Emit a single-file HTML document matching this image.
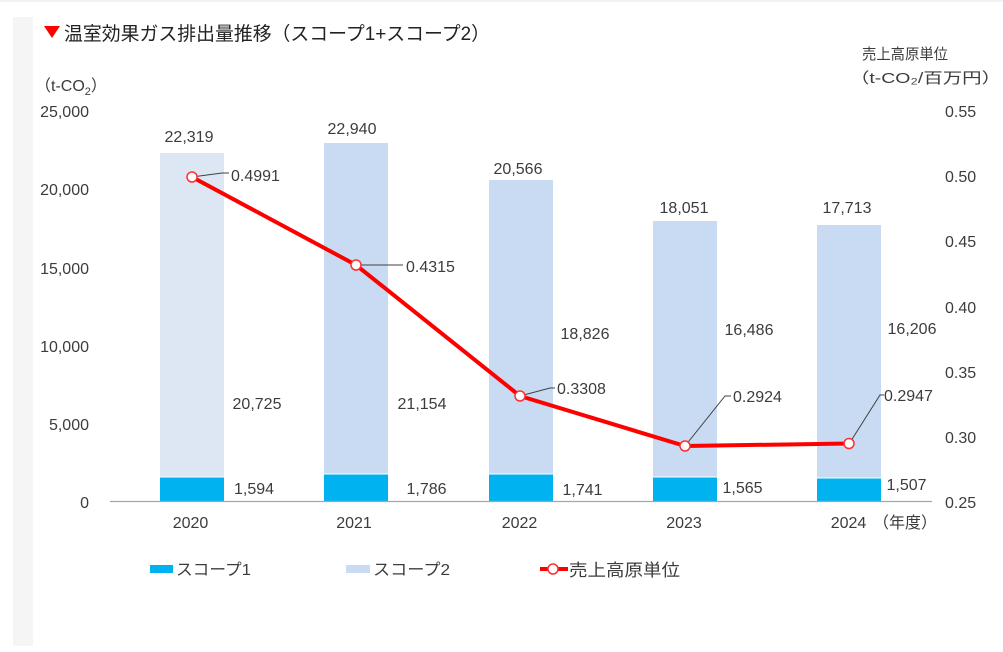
<!DOCTYPE html>
<html>
<head>
<meta charset="utf-8">
<style>
  html,body{margin:0;padding:0;background:#fff;}
  svg{display:block;}
  text{font-family:"Liberation Sans","Noto Sans CJK JP",sans-serif;fill:#3c3c3c;}
  .n{font-size:16px;}
  .j{font-family:"Liberation Sans","Noto Sans CJK JP",sans-serif;}
</style>
</head>
<body>
<svg width="1003" height="652" viewBox="0 0 1003 652" xmlns="http://www.w3.org/2000/svg">
  <rect x="0" y="0" width="1003" height="652" fill="#ffffff"/>
  <rect x="0" y="0" width="1003" height="2" fill="#f2f2f2"/>
  <!-- left gray strip -->
  <rect x="13" y="17" width="20" height="629" fill="#f5f5f5"/>

  <!-- Title -->
  <polygon points="44,26 60,26 52,38" fill="#ff0000"/>
  <text x="64" y="40" font-size="19" textLength="426" lengthAdjust="spacingAndGlyphs" style="fill:#222">温室効果ガス排出量推移（スコープ1+スコープ2）</text>

  <!-- Axis titles -->
  <text x="35" y="91" font-size="16">（t-CO<tspan font-size="11" dy="4">2</tspan><tspan dy="-4">）</tspan></text>
  <text x="862" y="59" font-size="15" textLength="86" lengthAdjust="spacingAndGlyphs">売上高原単位</text>
  <text x="850" y="83" font-size="15" textLength="151" lengthAdjust="spacingAndGlyphs">（t-CO₂/百万円）</text>

  <!-- Left tick labels -->
  <g class="n" text-anchor="end">
    <text x="89" y="117">25,000</text>
    <text x="89" y="195">20,000</text>
    <text x="89" y="274">15,000</text>
    <text x="89" y="352">10,000</text>
    <text x="89" y="430">5,000</text>
    <text x="89" y="508">0</text>
  </g>
  <!-- Right tick labels -->
  <g class="n" text-anchor="start">
    <text x="945" y="117">0.55</text>
    <text x="945" y="182">0.50</text>
    <text x="945" y="247">0.45</text>
    <text x="945" y="313">0.40</text>
    <text x="945" y="378">0.35</text>
    <text x="945" y="443">0.30</text>
    <text x="945" y="508">0.25</text>
  </g>

  <!-- Bars -->
  <!-- 2020 -->
  <rect x="160" y="153" width="64" height="323.5" fill="#dde7f4"/>
  <rect x="160" y="477.5" width="64" height="24" fill="#00b2f0"/>
  <!-- 2021 -->
  <rect x="324" y="143" width="64" height="330.5" fill="#c9dbf2"/>
  <rect x="324" y="474.5" width="64" height="27" fill="#00b2f0"/>
  <!-- 2022 -->
  <rect x="489" y="180" width="64" height="293.5" fill="#c9dbf2"/>
  <rect x="489" y="474.5" width="64" height="27" fill="#00b2f0"/>
  <!-- 2023 -->
  <rect x="653" y="221" width="64" height="255.5" fill="#c9dbf2"/>
  <rect x="653" y="477.5" width="64" height="24" fill="#00b2f0"/>
  <!-- 2024 -->
  <rect x="817" y="225" width="64" height="252.5" fill="#c9dbf2"/>
  <rect x="817" y="478.5" width="64" height="23" fill="#00b2f0"/>

  <!-- baseline -->
  <line x1="110" y1="501.5" x2="932" y2="501.5" stroke="#a6a6a6" stroke-width="1.2"/>

  <!-- Total labels -->
  <g class="n" text-anchor="middle">
    <text x="189" y="142">22,319</text>
    <text x="352" y="134">22,940</text>
    <text x="518" y="174">20,566</text>
    <text x="684" y="213">18,051</text>
    <text x="847" y="213">17,713</text>
  </g>
  <!-- Scope2 labels -->
  <g class="n" text-anchor="middle">
    <text x="257" y="409">20,725</text>
    <text x="422" y="409">21,154</text>
    <text x="585" y="339">18,826</text>
    <text x="749" y="335">16,486</text>
    <text x="912" y="334">16,206</text>
  </g>
  <!-- Scope1 labels -->
  <g class="n" text-anchor="middle">
    <text x="254" y="494">1,594</text>
    <text x="426.5" y="494">1,786</text>
    <text x="582.5" y="495">1,741</text>
    <text x="742.5" y="493">1,565</text>
    <text x="906.5" y="490">1,507</text>
  </g>

  <!-- Year labels -->
  <g class="n" text-anchor="middle">
    <text x="190.5" y="528">2020</text>
    <text x="354" y="528">2021</text>
    <text x="519.5" y="528">2022</text>
    <text x="684" y="528">2023</text>
    <text x="848.5" y="528">2024</text>
  </g>
  <text x="873" y="528" font-size="16">（年度）</text>

  <!-- Leader lines -->
  <g stroke="#404040" stroke-width="1" fill="none">
    <polyline points="192,177 222,173 229,173"/>
    <polyline points="356,265 403,265"/>
    <polyline points="520,396 550,388 555,388"/>
    <polyline points="685,446 725,396 731,396"/>
    <polyline points="849,444 880,395 884,395"/>
  </g>

  <!-- Line series -->
  <polyline points="192,177 356,265 520,396 685,446 849,443.5" fill="none" stroke="#ff0000" stroke-width="4" stroke-linejoin="round"/>
  <g fill="#ffffff" stroke="#ff3030" stroke-width="1.5">
    <circle cx="192" cy="177" r="5"/>
    <circle cx="356" cy="265" r="5"/>
    <circle cx="520" cy="396" r="5"/>
    <circle cx="685" cy="446" r="5"/>
    <circle cx="849" cy="443.5" r="5"/>
  </g>

  <!-- Line labels -->
  <g class="n" text-anchor="start">
    <text x="231" y="181">0.4991</text>
    <text x="406" y="272">0.4315</text>
    <text x="557" y="394">0.3308</text>
    <text x="733" y="402">0.2924</text>
    <text x="884" y="401">0.2947</text>
  </g>

  <!-- Legend -->
  <rect x="150" y="565" width="23" height="8" fill="#00b2f0"/>
  <text x="176" y="575" font-size="16" textLength="75" lengthAdjust="spacingAndGlyphs">スコープ1</text>
  <rect x="346" y="565" width="24" height="8" fill="#c9dbf2"/>
  <text x="373" y="575" font-size="16" textLength="77" lengthAdjust="spacingAndGlyphs">スコープ2</text>
  <line x1="540" y1="569" x2="568" y2="569" stroke="#ff0000" stroke-width="4"/>
  <circle cx="553" cy="569" r="5" fill="#ffffff" stroke="#ff3030" stroke-width="1.5"/>
  <text x="569" y="576" font-size="17" textLength="111" lengthAdjust="spacingAndGlyphs">売上高原単位</text>
</svg>
</body>
</html>
